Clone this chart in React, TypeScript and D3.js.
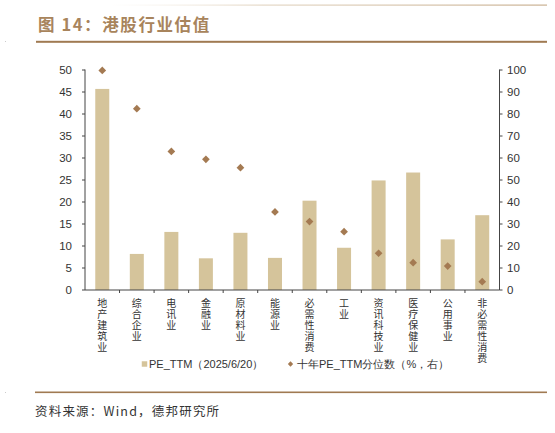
import React from "react";
import * as d3 from "d3";

const categories = ["地产建筑业", "综合企业", "电讯业", "金融业", "原材料业", "能源业", "必需性消费", "工业", "资讯科技业", "医疗保健业", "公用事业", "非必需性消费"];
const peTTM = [45.7, 8.2, 13.2, 7.2, 13.0, 7.3, 20.3, 9.6, 24.9, 26.7, 11.5, 17.0];
const percentile10y = [99.8, 82.4, 63.0, 59.4, 55.6, 35.5, 31.1, 26.5, 16.7, 12.4, 10.9, 3.8];
const leftTicks = [0, 5, 10, 15, 20, 25, 30, 35, 40, 45, 50];
const rightTicks = [0, 10, 20, 30, 40, 50, 60, 70, 80, 90, 100];
const title = "图 14：港股行业估值";
const source = "资料来源：Wind，德邦研究所";
const legendBar = "PE_TTM（2025/6/20）";
const legendDot = "十年PE_TTM分位数（%，右）";

const W = 555, H = 433;
const plot = { left: 85, right: 499.5, top: 70, bottom: 290 };
const barColor = "#D5C49B";
const dotColor = "#A47A52";
const brown = "#A07A52";
const numFont = "'Liberation Sans', Arial, sans-serif";
const cjkFont = "'Noto Sans CJK SC', sans-serif";

export default function App() {
  const x = d3.scaleBand<string>().domain(categories).range([plot.left, plot.right]).paddingInner(0).paddingOuter(0);
  const yL = d3.scaleLinear().domain([0, 50]).range([plot.bottom, plot.top]);
  const yR = d3.scaleLinear().domain([0, 100]).range([plot.bottom, plot.top]);
  const bw = 14;
  const diamond = d3.symbol().type(d3.symbolDiamond2).size(38)();
  const sqLegend = d3.symbol().type(d3.symbolSquare).size(30)();
  const boundaries = categories.map((c) => x(c)!).slice(1);

  return (
    <svg width={W} height={H} style={{ position: "absolute", left: 0, top: 0, background: "#fff" }}>
      <defs>
        <linearGradient id="topfade" x1="0" x2="1" y1="0" y2="0">
          <stop offset="0" stopColor="#E8DCCB" stopOpacity="0" />
          <stop offset="0.35" stopColor="#D9C7AE" stopOpacity="0.7" />
          <stop offset="1" stopColor="#C9B091" stopOpacity="1" />
        </linearGradient>
      </defs>
      <rect x={110} y={4.5} width={437} height={1.2} fill="url(#topfade)" />
      <text x={38} y={31} fontFamily={cjkFont} fontSize={16.5} fontWeight="bold" letterSpacing={1.6} fill="#A8845C">{title}</text>
      <rect x={36} y={40.8} width={511} height={2} fill={brown} />
      <rect x={5} y={41} width={1} height={1} fill="#ccc" />

      {/* bars */}
      {categories.map((c, i) => (
        <rect key={c} x={x(c)! + x.bandwidth() / 2 - bw / 2} y={yL(peTTM[i])} width={bw} height={plot.bottom - yL(peTTM[i])} fill={barColor} />
      ))}
      {/* diamonds */}
      {categories.map((c, i) => (
        <path key={c} d={diamond!} transform={`translate(${x(c)! + x.bandwidth() / 2},${yR(percentile10y[i])})`} fill={dotColor} />
      ))}

      {/* left axis */}
      <line x1={plot.left} x2={plot.left} y1={plot.top - 0.5} y2={plot.bottom} stroke="#444" strokeWidth={1} />
      {leftTicks.map((t) => (
        <g key={t}>
          <line x1={plot.left - 3} x2={plot.left} y1={yL(t)} y2={yL(t)} stroke="#444" strokeWidth={1} />
          <text x={72} y={yL(t)} dy="0.35em" textAnchor="end" fontFamily={numFont} fontSize={11.5} fill="#333">{t}</text>
        </g>
      ))}
      {/* right axis */}
      <line x1={plot.right} x2={plot.right} y1={plot.top - 0.5} y2={plot.bottom} stroke="#444" strokeWidth={1} />
      {rightTicks.map((t) => (
        <g key={t}>
          <line x1={plot.right} x2={plot.right + 3} y1={yR(t)} y2={yR(t)} stroke="#444" strokeWidth={1} />
          <text x={507} y={yR(t)} dy="0.35em" textAnchor="start" fontFamily={numFont} fontSize={11.5} fill="#333">{t}</text>
        </g>
      ))}
      {/* x axis */}
      <line x1={plot.left} x2={plot.right} y1={plot.bottom} y2={plot.bottom} stroke="#444" strokeWidth={1} />
      {boundaries.map((b, i) => (
        <line key={i} x1={b} x2={b} y1={plot.bottom} y2={plot.bottom + 3} stroke="#444" strokeWidth={1} />
      ))}
      {categories.map((c) => (
        <text key={c} x={x(c)! + x.bandwidth() / 2} y={298} fontFamily={cjkFont} fontSize={10} fill="#333" letterSpacing={1}
          style={{ writingMode: "vertical-rl", textOrientation: "upright" } as any}>{c}</text>
      ))}

      {/* legend */}
      <path d={sqLegend!} transform="translate(144.5,364)" fill={barColor} />
      <text x={149} y={364} dy="0.35em" fontFamily={numFont} fontSize={11} fill="#333">{legendBar}</text>
      <path d={d3.symbol().type(d3.symbolDiamond2).size(18)()!} transform="translate(290.5,364)" fill={dotColor} />
      <text x={297} y={364} dy="0.35em" fontFamily={numFont} fontSize={11} fill="#333">{legendDot}</text>

      {/* footer */}
      <rect x={35} y={391.5} width={512} height={1.6} fill={brown} />
      <rect x={5} y={392} width={1} height={1} fill="#ccc" />
      <text x={35} y={412} dy="0.35em" fontFamily={cjkFont} fontSize={12.5} letterSpacing={1.2} fill="#333">{source}</text>
    </svg>
  );
}
